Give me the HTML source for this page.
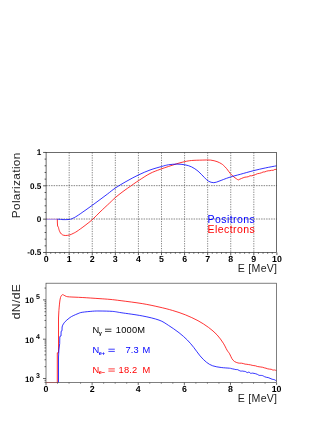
<!DOCTYPE html>
<html><head><meta charset="utf-8"><title>plot</title><style>html,body{margin:0;padding:0;background:#fff}body{width:332px;height:429px;overflow:hidden;font-family:"Liberation Sans",sans-serif}</style></head><body>
<svg width="332" height="429" viewBox="0 0 332 429" style="display:block;will-change:transform;font-family:'Liberation Sans',sans-serif">
<rect width="332" height="429" fill="#fff"/>
<path d="M69.18,152.45 V252.5 M92.26,152.45 V252.5 M115.34,152.45 V252.5 M138.42,152.45 V252.5 M161.50,152.45 V252.5 M184.58,152.45 V252.5 M207.66,152.45 V252.5 M230.74,152.45 V252.5 M253.82,152.45 V252.5" stroke="#444" stroke-width="0.65" stroke-dasharray="1.25 1.2" fill="none"/>
<path d="M46.1,185.65 H276.9 M46.1,219.00 H276.9" stroke="#444" stroke-width="0.65" stroke-dasharray="1.5 1.0" fill="none"/>
<path d="M46.6,219.2 H57.3" stroke="#fff" stroke-width="1.4" fill="none"/>
<path d="M46.1,219.1 H57.3" stroke="#f33" stroke-width="0.8" fill="none" opacity="0.35"/>
<path d="M46.1,219.3 H57.3" stroke="#22f" stroke-width="0.8" fill="none" opacity="0.55"/>
<path d="M57.3,219.2 L57.4,223.0 L57.6,226.0 L58.4,227.2" stroke="#f00" stroke-width="0.8" fill="none"/>
<path d="M58.40,227.20 C58.53,227.72 58.85,229.33 59.20,230.30 C59.55,231.27 59.95,232.25 60.50,233.00 C61.05,233.75 61.70,234.38 62.50,234.80 C63.30,235.22 64.13,235.47 65.30,235.50 C66.47,235.53 68.22,235.33 69.50,235.00 C70.78,234.67 71.75,234.12 73.00,233.50 C74.25,232.88 75.00,232.63 77.00,231.30 C79.00,229.97 82.38,227.50 85.00,225.50 C87.62,223.50 90.20,221.55 92.70,219.30 C95.20,217.05 97.18,214.72 100.00,212.00 C102.82,209.28 107.03,205.42 109.60,203.00 C112.17,200.58 113.17,199.42 115.40,197.50 C117.63,195.58 120.30,193.52 123.00,191.50 C125.70,189.48 129.00,187.22 131.60,185.40 C134.20,183.58 135.53,182.58 138.60,180.60 C141.67,178.62 146.43,175.37 150.00,173.50 C153.57,171.63 156.93,170.57 160.00,169.40 C163.07,168.23 165.58,167.45 168.40,166.50 C171.22,165.55 174.15,164.52 176.90,163.70 C179.65,162.88 182.45,162.13 184.90,161.60 C187.35,161.07 188.72,160.75 191.60,160.50 C194.48,160.25 199.03,160.17 202.20,160.10 C205.37,160.03 208.13,159.85 210.60,160.10 C213.07,160.35 215.22,161.00 217.00,161.60 C218.78,162.20 220.25,163.10 221.30,163.70 C222.35,164.30 222.42,164.38 223.30,165.20 C224.18,166.02 225.42,167.20 226.60,168.60 C227.78,170.00 229.17,172.20 230.40,173.60 C231.63,175.00 232.70,175.93 234.00,177.00 C235.30,178.07 237.50,179.50 238.20,180.00" stroke="#f00" stroke-width="0.8" fill="none"/>
<path d="M238.2,180.0 L239.8,179.2 L241.4,178.5 L243.1,177.8 L244.9,177.2 L246.6,177.0 L248.3,176.7 L250.0,175.8 L251.7,175.8 L253.4,175.3 L255.4,174.6 L257.4,173.7 L259.4,173.4 L261.4,172.8 L263.1,172.0 L264.8,171.9 L266.5,171.2 L268.2,170.8 L269.9,170.7 L271.6,170.3 L273.2,170.3 L274.9,169.4 L276.6,169.4" stroke="#f00" stroke-width="0.8" fill="none"/>
<path d="M57.30,219.25 C57.75,219.26 59.05,219.24 60.00,219.30 C60.95,219.36 61.42,219.58 63.00,219.60 C64.58,219.62 67.83,219.63 69.50,219.40 C71.17,219.17 71.75,218.77 73.00,218.20 C74.25,217.63 75.00,217.28 77.00,216.00 C79.00,214.72 82.38,212.33 85.00,210.50 C87.62,208.67 90.20,206.82 92.70,205.00 C95.20,203.18 97.53,201.43 100.00,199.60 C102.47,197.77 104.93,195.93 107.50,194.00 C110.07,192.07 112.15,190.17 115.40,188.00 C118.65,185.83 123.13,183.18 127.00,181.00 C130.87,178.82 134.77,176.73 138.60,174.90 C142.43,173.07 146.17,171.40 150.00,170.00 C153.83,168.60 158.53,167.37 161.60,166.50 C164.67,165.63 165.85,165.20 168.40,164.80 C170.95,164.40 174.15,164.10 176.90,164.10 C179.65,164.10 182.45,164.33 184.90,164.80 C187.35,165.27 189.42,165.85 191.60,166.90 C193.78,167.95 195.88,169.35 198.00,171.10 C200.12,172.85 202.55,175.72 204.30,177.40 C206.05,179.08 206.92,180.32 208.50,181.20 C210.08,182.08 212.05,182.70 213.80,182.70 C215.55,182.70 217.40,181.73 219.00,181.20 C220.60,180.67 221.50,180.20 223.40,179.50 C225.30,178.80 227.58,177.87 230.40,177.00 C233.22,176.13 236.47,175.35 240.30,174.30 C244.13,173.25 249.18,171.77 253.40,170.70 C257.62,169.63 261.73,168.72 265.60,167.90 C269.47,167.08 274.77,166.15 276.60,165.80" stroke="#00f" stroke-width="0.8" fill="none"/>
<rect x="46.1" y="152.45" width="230.50" height="100.05" fill="none" stroke="#333" stroke-width="0.72"/>
<path d="M46.10,252.5 v2.6 M50.72,252.5 v1.2 M55.33,252.5 v1.2 M59.95,252.5 v1.2 M64.56,252.5 v1.2 M69.18,252.5 v2.6 M73.80,252.5 v1.2 M78.41,252.5 v1.2 M83.03,252.5 v1.2 M87.64,252.5 v1.2 M92.26,252.5 v2.6 M96.88,252.5 v1.2 M101.49,252.5 v1.2 M106.11,252.5 v1.2 M110.72,252.5 v1.2 M115.34,252.5 v2.6 M119.96,252.5 v1.2 M124.57,252.5 v1.2 M129.19,252.5 v1.2 M133.80,252.5 v1.2 M138.42,252.5 v2.6 M143.04,252.5 v1.2 M147.65,252.5 v1.2 M152.27,252.5 v1.2 M156.88,252.5 v1.2 M161.50,252.5 v2.6 M166.12,252.5 v1.2 M170.73,252.5 v1.2 M175.35,252.5 v1.2 M179.96,252.5 v1.2 M184.58,252.5 v2.6 M189.20,252.5 v1.2 M193.81,252.5 v1.2 M198.43,252.5 v1.2 M203.04,252.5 v1.2 M207.66,252.5 v2.6 M212.28,252.5 v1.2 M216.89,252.5 v1.2 M221.51,252.5 v1.2 M226.12,252.5 v1.2 M230.74,252.5 v2.6 M235.36,252.5 v1.2 M239.97,252.5 v1.2 M244.59,252.5 v1.2 M249.20,252.5 v1.2 M253.82,252.5 v2.6 M258.44,252.5 v1.2 M263.05,252.5 v1.2 M267.67,252.5 v1.2 M272.28,252.5 v1.2 M276.90,252.5 v2.6 M46.1,252.50 h-3 M46.1,245.83 h-1.5 M46.1,239.16 h-1.5 M46.1,232.49 h-1.5 M46.1,225.82 h-1.5 M46.1,219.15 h-3 M46.1,212.48 h-1.5 M46.1,205.81 h-1.5 M46.1,199.14 h-1.5 M46.1,192.47 h-1.5 M46.1,185.80 h-3 M46.1,179.13 h-1.5 M46.1,172.46 h-1.5 M46.1,165.79 h-1.5 M46.1,159.12 h-1.5 M46.1,152.45 h-3" stroke="#222" stroke-width="0.75" fill="none"/>
<g font-size="8.8" font-weight="bold" fill="#000" text-rendering="geometricPrecision">
<text x="46.1" y="261.6" text-anchor="middle">0</text>
<text x="69.2" y="261.6" text-anchor="middle">1</text>
<text x="92.3" y="261.6" text-anchor="middle">2</text>
<text x="115.3" y="261.6" text-anchor="middle">3</text>
<text x="138.4" y="261.6" text-anchor="middle">4</text>
<text x="161.5" y="261.6" text-anchor="middle">5</text>
<text x="184.6" y="261.6" text-anchor="middle">6</text>
<text x="207.7" y="261.6" text-anchor="middle">7</text>
<text x="230.7" y="261.6" text-anchor="middle">8</text>
<text x="253.8" y="261.6" text-anchor="middle">9</text>
<text x="276.9" y="261.6" text-anchor="middle">10</text>
<text x="41.4" y="155.4" text-anchor="end" font-size="8.2">1</text>
<text x="41.4" y="188.7" text-anchor="end" font-size="8.2">0.5</text>
<text x="41.4" y="222.1" text-anchor="end" font-size="8.2">0</text>
<text x="41.4" y="255.4" text-anchor="end" font-size="8.2">-0.5</text>
</g>
<g font-size="10.6" fill="#222">
<text x="277.3" y="271.8" text-anchor="end" letter-spacing="0.25">E [MeV]</text>
<text x="277.3" y="402.4" text-anchor="end" letter-spacing="0.25">E [MeV]</text>
<text transform="translate(20,218.3) rotate(-90) scale(1.12,1)" letter-spacing="0.3">Polarization</text>
<text transform="translate(20,319.3) rotate(-90) scale(1.14,1)" letter-spacing="0.35">dN/dE</text>
</g>
<g font-size="10.5" letter-spacing="0.45">
<text x="207.5" y="222.9" fill="#00f">Positrons</text>
<text x="207.5" y="233" fill="#f00">Electrons</text>
</g>
<path d="M57.3,382.6 L57.3,352.8 L58.5,352.8 L58.5,318.0 L58.9,310.5" stroke="#f00" stroke-width="0.8" fill="none"/>
<path d="M58.90,310.50 C59.02,309.25 59.33,305.17 59.60,303.00 C59.87,300.83 60.07,298.87 60.50,297.50 C60.93,296.13 61.62,295.18 62.20,294.80 C62.78,294.42 63.37,294.95 64.00,295.20 C64.63,295.45 65.08,296.02 66.00,296.30 C66.92,296.58 66.80,296.70 69.50,296.90 C72.20,297.10 77.28,297.22 82.20,297.50 C87.12,297.78 94.37,298.28 99.00,298.60 C103.63,298.92 106.32,299.05 110.00,299.40 C113.68,299.75 115.73,300.00 121.10,300.70 C126.47,301.40 135.88,302.55 142.20,303.60 C148.52,304.65 153.92,305.85 159.00,307.00 C164.08,308.15 168.32,309.20 172.70,310.50 C177.08,311.80 181.08,313.10 185.30,314.80 C189.52,316.50 194.13,318.60 198.00,320.70 C201.87,322.80 205.33,325.05 208.50,327.40 C211.67,329.75 214.53,332.17 217.00,334.80 C219.47,337.43 221.63,340.65 223.30,343.20 C224.97,345.75 225.95,348.33 227.00,350.10 C228.05,351.87 228.78,352.38 229.60,353.80 C230.42,355.22 231.08,357.32 231.90,358.60 C232.72,359.88 233.50,360.78 234.50,361.50 C235.50,362.22 237.03,362.62 237.90,362.90 C238.77,363.18 239.10,363.13 239.70,363.18 C240.30,363.23 240.90,363.14 241.50,363.20 C242.10,363.27 242.70,363.42 243.30,363.57 C243.90,363.73 244.50,364.02 245.10,364.14 C245.70,364.26 246.30,364.20 246.90,364.27 C247.50,364.35 248.11,364.51 248.70,364.60 C249.29,364.69 249.85,364.71 250.43,364.83 C251.00,364.95 251.58,365.21 252.16,365.34 C252.73,365.47 253.31,365.51 253.89,365.60 C254.46,365.69 255.04,365.70 255.61,365.85 C256.19,366.00 256.77,366.34 257.34,366.49 C257.92,366.65 258.50,366.69 259.07,366.78 C259.65,366.86 260.22,366.92 260.80,367.00 C261.38,367.08 261.96,367.11 262.53,367.25 C263.11,367.39 263.69,367.68 264.27,367.84 C264.84,368.01 265.42,368.05 266.00,368.22 C266.58,368.38 267.16,368.67 267.73,368.83 C268.31,368.98 268.89,369.06 269.47,369.14 C270.04,369.21 270.62,369.11 271.20,369.27 C271.78,369.43 272.36,369.97 272.93,370.09 C273.51,370.20 274.09,369.89 274.67,369.97 C275.24,370.06 276.11,370.50 276.40,370.60" stroke="#f00" stroke-width="0.8" fill="none"/>
<path d="M58.5,382.5 L58.5,357.0 L58.9,350.0 L59.7,343.5 L59.8,336.5 L61.0,336.0 L61.1,331.3 L62.0,330.8 L62.1,327.0 L62.7,325.2" stroke="#00f" stroke-width="0.8" fill="none"/>
<path d="M62.70,325.20 C63.00,324.72 63.80,323.17 64.50,322.30 C65.20,321.43 65.98,320.80 66.90,320.00 C67.82,319.20 68.95,318.22 70.00,317.50 C71.05,316.78 71.87,316.35 73.20,315.70 C74.53,315.05 76.50,314.17 78.00,313.60 C79.50,313.03 79.75,312.70 82.20,312.30 C84.65,311.90 89.73,311.42 92.70,311.20 C95.67,310.98 96.67,310.97 100.00,311.00 C103.33,311.03 109.18,311.12 112.70,311.40 C116.22,311.68 116.18,311.95 121.10,312.70 C126.02,313.45 135.88,314.67 142.20,315.90 C148.52,317.13 154.63,318.53 159.00,320.10 C163.37,321.67 165.07,323.20 168.40,325.30 C171.73,327.40 175.83,330.23 179.00,332.70 C182.17,335.17 184.93,337.63 187.40,340.10 C189.87,342.57 191.68,344.87 193.80,347.50 C195.92,350.13 198.00,353.45 200.10,355.90 C202.20,358.35 204.30,360.55 206.40,362.20 C208.50,363.85 210.23,364.92 212.70,365.80 C215.17,366.68 218.40,367.10 221.20,367.50 C224.00,367.90 227.85,368.03 229.50,368.20 C231.15,368.37 230.57,368.43 231.10,368.54 C231.63,368.66 232.17,368.77 232.70,368.89 C233.23,369.00 233.77,369.12 234.30,369.23 C234.83,369.35 235.37,369.51 235.90,369.58 C236.43,369.64 236.97,369.48 237.50,369.62 C238.03,369.76 238.57,370.16 239.10,370.41 C239.63,370.65 240.17,371.00 240.70,371.10 C241.23,371.21 241.77,371.01 242.30,371.04 C242.83,371.07 243.35,371.21 243.90,371.30 C244.45,371.39 245.03,371.37 245.59,371.60 C246.15,371.82 246.72,372.57 247.28,372.64 C247.84,372.72 248.41,371.92 248.97,372.03 C249.53,372.15 250.10,373.15 250.66,373.33 C251.22,373.52 251.79,373.11 252.35,373.12 C252.91,373.12 253.48,373.26 254.04,373.37 C254.60,373.47 255.17,373.58 255.73,373.75 C256.29,373.92 256.86,374.10 257.42,374.37 C257.98,374.63 258.55,375.17 259.11,375.34 C259.67,375.51 260.21,375.35 260.80,375.40 C261.39,375.45 262.03,375.42 262.64,375.63 C263.25,375.84 263.87,376.37 264.48,376.65 C265.09,376.93 265.71,377.14 266.32,377.29 C266.93,377.45 267.55,377.41 268.16,377.58 C268.77,377.75 269.34,378.02 270.00,378.30 C270.66,378.58 271.42,379.03 272.13,379.25 C272.84,379.47 273.56,379.33 274.27,379.62 C274.98,379.91 276.04,380.77 276.40,381.00" stroke="#00f" stroke-width="0.8" fill="none"/>
<rect x="46.0" y="283.2" width="230.60" height="99.40" fill="none" stroke="#444" stroke-width="0.68"/>
<path d="M46,382.6 H57.3" stroke="#f00" stroke-width="0.8" fill="none" opacity="0.3"/>
<path d="M46.00,382.6 v2.3 M57.53,382.6 v1.0 M69.06,382.6 v1.0 M80.59,382.6 v1.0 M92.12,382.6 v2.3 M103.65,382.6 v1.0 M115.18,382.6 v1.0 M126.71,382.6 v1.0 M138.24,382.6 v2.3 M149.77,382.6 v1.0 M161.30,382.6 v1.0 M172.83,382.6 v1.0 M184.36,382.6 v2.3 M195.89,382.6 v1.0 M207.42,382.6 v1.0 M218.95,382.6 v1.0 M230.48,382.6 v2.3 M242.01,382.6 v1.0 M253.54,382.6 v1.0 M265.07,382.6 v1.0 M276.60,382.6 v2.3 M46.0,382.31 h-1.5 M46.0,380.30 h-1.5 M46.0,378.50 h-3 M46.0,366.67 h-1.5 M46.0,359.75 h-1.5 M46.0,354.84 h-1.5 M46.0,351.03 h-1.5 M46.0,347.92 h-1.5 M46.0,345.29 h-1.5 M46.0,343.01 h-1.5 M46.0,341.00 h-1.5 M46.0,339.20 h-3 M46.0,327.37 h-1.5 M46.0,320.45 h-1.5 M46.0,315.54 h-1.5 M46.0,311.73 h-1.5 M46.0,308.62 h-1.5 M46.0,305.99 h-1.5 M46.0,303.71 h-1.5 M46.0,301.70 h-1.5 M46.0,299.90 h-3 M46.0,288.07 h-1.5" stroke="#333" stroke-width="0.75" fill="none"/>
<g font-size="8.8" font-weight="bold" fill="#000" text-rendering="geometricPrecision">
<text x="46.0" y="392.2" text-anchor="middle">0</text>
<text x="92.1" y="392.2" text-anchor="middle">2</text>
<text x="138.2" y="392.2" text-anchor="middle">4</text>
<text x="184.4" y="392.2" text-anchor="middle">6</text>
<text x="230.5" y="392.2" text-anchor="middle">8</text>
<text x="276.6" y="392.2" text-anchor="middle">10</text>
</g>
<g font-size="8" font-weight="bold" fill="#000" text-rendering="geometricPrecision">
<text x="25.1" y="381.8">10</text>
<text x="35.9" y="377.9" font-size="7">3</text>
<text x="25.1" y="342.5">10</text>
<text x="35.9" y="338.6" font-size="7">4</text>
<text x="25.1" y="303.2">10</text>
<text x="35.9" y="299.3" font-size="7">5</text>
</g>
<g font-size="9.3">
<g fill="#000"><text x="92.6" y="333.3">N</text><text x="98.7" y="334.5" font-size="5.6" font-weight="bold">γ</text><path d="M105.0,329.2 h6.4 M105.0,331.40000000000003 h6.4" stroke="#000" stroke-width="0.75" fill="none"/><text x="115.8" y="333.3" letter-spacing="0.2">1000M</text></g>
<g fill="#00f"><text x="92.6" y="353.3">N</text><text x="98.7" y="354.5" font-size="5.6" font-weight="bold">e+</text><path d="M108.4,349.2 h6.4 M108.4,351.40000000000003 h6.4" stroke="#00f" stroke-width="0.75" fill="none"/><text x="125.4" y="353.3" letter-spacing="0.2">7.3</text><text x="142.4" y="353.3">M</text></g>
<g fill="#f00"><text x="92.6" y="373">N</text><text x="98.7" y="374.2" font-size="5.6" font-weight="bold">e−</text><path d="M108.4,368.9 h6.4 M108.4,371.1 h6.4" stroke="#f00" stroke-width="0.75" fill="none"/><text x="118.6" y="373" letter-spacing="0.2">18.2</text><text x="142.4" y="373">M</text></g>
</g>
</svg>
</body></html>
